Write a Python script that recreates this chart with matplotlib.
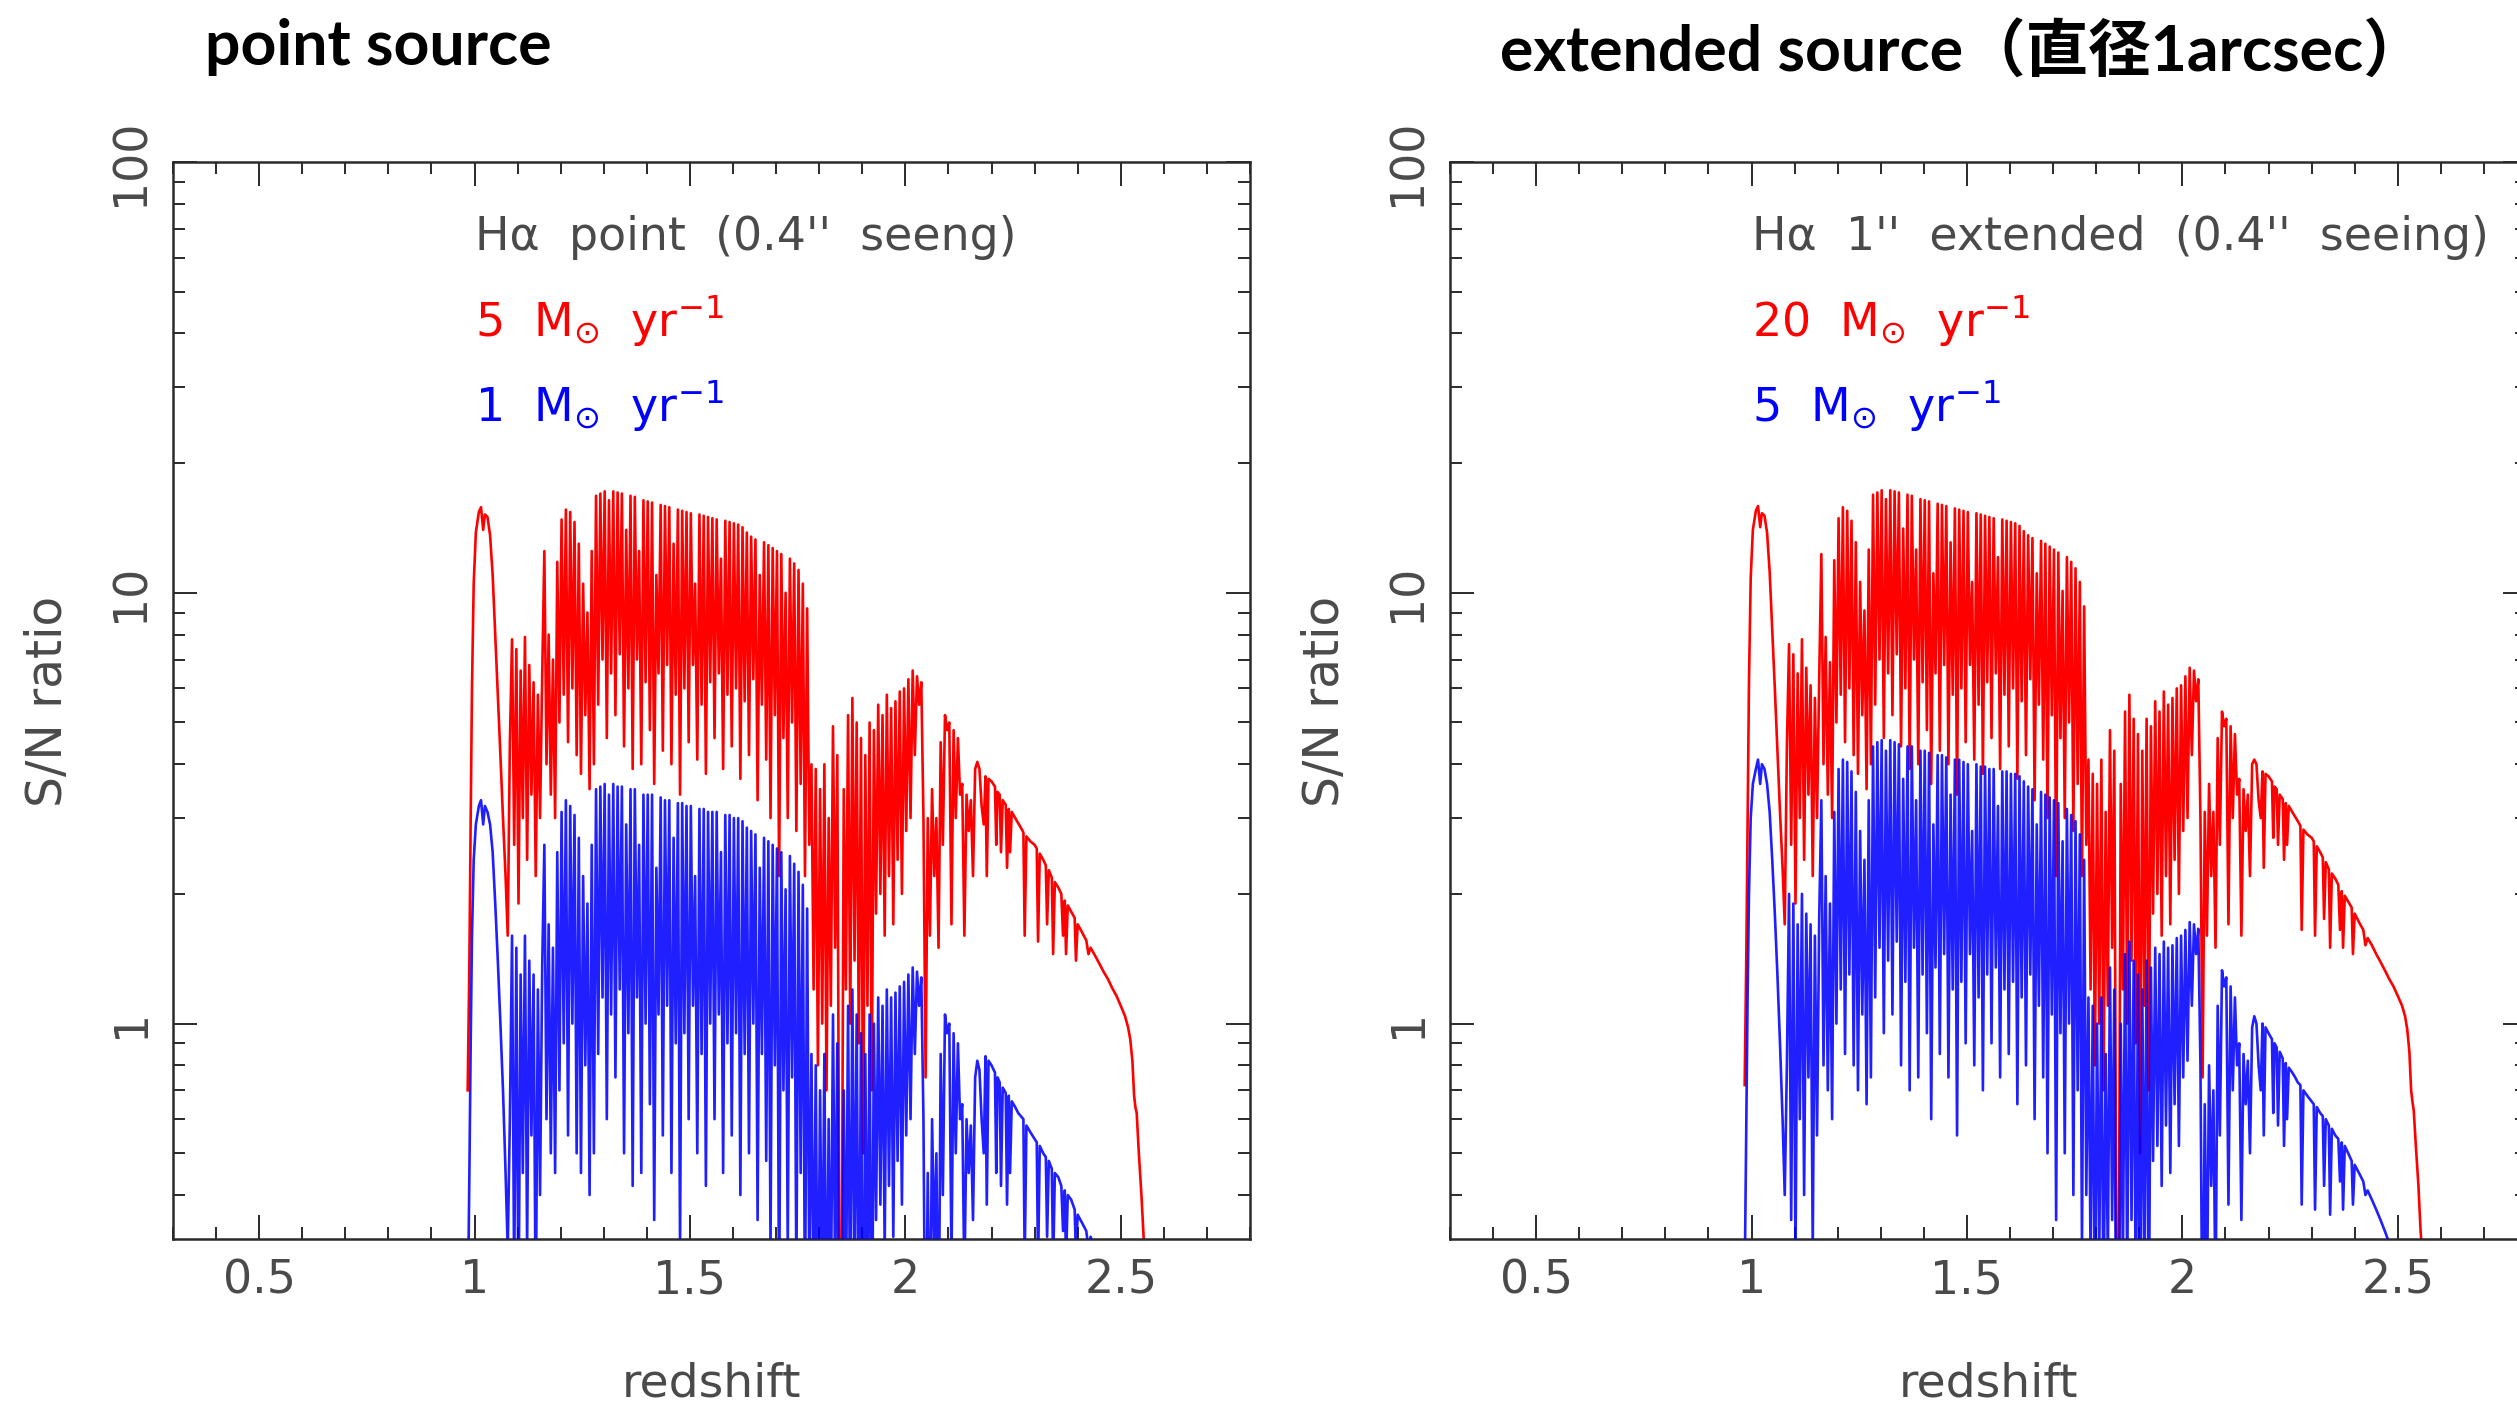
import matplotlib
matplotlib.use("Agg")
import matplotlib.pyplot as plt
from matplotlib.ticker import MultipleLocator, LogLocator, FixedLocator, NullFormatter, FuncFormatter

plt.rcParams['mathtext.fontset'] = 'dejavusans'
plt.rcParams['mathtext.default'] = 'regular'
plt.rcParams['font.family'] = ['DejaVu Sans']

# ---------------- data ----------------
redshift = [
    0.984, 0.988, 0.991, 0.994, 0.998, 1.003, 1.010, 1.015, 1.020, 1.024,
    1.030, 1.036, 1.042, 1.048, 1.054, 1.060, 1.066, 1.072, 1.077,
    1.082, 1.087, 1.092, 1.097, 1.102, 1.107, 1.112, 1.117, 1.122, 1.127,
    1.132, 1.137, 1.142, 1.147, 1.152, 1.157, 1.162, 1.167, 1.172, 1.177,
    1.182, 1.187,
    1.192, 1.197, 1.202, 1.207, 1.212, 1.217, 1.222, 1.227, 1.232, 1.237,
    1.242, 1.247, 1.252, 1.257, 1.262, 1.267, 1.272, 1.277, 1.282, 1.287,
    1.292, 1.297, 1.302, 1.307, 1.312, 1.317, 1.322, 1.327, 1.332, 1.337,
    1.342, 1.347, 1.352, 1.357, 1.362, 1.367, 1.372, 1.377, 1.382, 1.387,
    1.392, 1.397, 1.402, 1.407, 1.412, 1.417, 1.422, 1.427, 1.432, 1.437,
    1.442, 1.447, 1.452, 1.457, 1.462, 1.467, 1.472, 1.477, 1.482, 1.487,
    1.492, 1.497, 1.502, 1.507, 1.512, 1.517, 1.522, 1.527, 1.532, 1.537,
    1.542, 1.547, 1.552, 1.557, 1.562, 1.567, 1.572, 1.577, 1.582, 1.587,
    1.592, 1.597, 1.602, 1.607, 1.612, 1.617, 1.622, 1.627, 1.632, 1.637,
    1.642, 1.647, 1.652, 1.657, 1.662, 1.667, 1.672, 1.677, 1.682, 1.687,
    1.692, 1.697, 1.702, 1.707, 1.712, 1.717, 1.722, 1.727, 1.732, 1.737,
    1.742, 1.747, 1.752, 1.757, 1.762, 1.767, 1.772, 1.777,
    1.782, 1.787, 1.792, 1.797, 1.802, 1.807, 1.812, 1.817, 1.822, 1.827,
    1.832, 1.837, 1.842, 1.847, 1.852, 1.857, 1.862, 1.867, 1.872, 1.877,
    1.882, 1.887, 1.892, 1.897, 1.902, 1.907, 1.912, 1.917, 1.922, 1.927,
    1.932, 1.937, 1.942, 1.947, 1.952, 1.957, 1.962, 1.967, 1.972, 1.977,
    1.982, 1.987, 1.992, 1.997, 2.002, 2.007, 2.012, 2.017, 2.022, 2.027,
    2.032, 2.037, 2.042, 2.047,
    2.052, 2.057, 2.062, 2.067, 2.072, 2.077, 2.082, 2.087, 2.092, 2.097,
    2.102, 2.107, 2.112, 2.117, 2.122, 2.127, 2.132, 2.137, 2.142, 2.147,
    2.152, 2.157, 2.162, 2.167, 2.172, 2.177,
    2.182, 2.186, 2.189, 2.193, 2.200, 2.208, 2.211, 2.214, 2.219, 2.222,
    2.226, 2.233, 2.236, 2.240, 2.243, 2.247, 2.255, 2.262, 2.268, 2.274,
    2.277, 2.281, 2.290, 2.300, 2.305, 2.308, 2.312, 2.320, 2.326, 2.329,
    2.333, 2.340, 2.343, 2.347, 2.355, 2.362, 2.366, 2.370, 2.373, 2.377,
    2.385, 2.393, 2.396, 2.400, 2.410, 2.420, 2.425, 2.430, 2.440, 2.450,
    2.460, 2.470, 2.480, 2.490, 2.500, 2.510, 2.517, 2.522, 2.527, 2.531,
    2.534, 2.537, 2.542, 2.548, 2.553, 2.558,
]

# point source, 5 Msun/yr (red, left)
sn_point_5 = [
    0.70, 1.4, 3.0, 6.0, 10.5, 13.8, 15.4, 15.8, 14.0, 15.2,
    15.0, 13.6, 11.0, 8.0, 5.8, 4.2, 3.0, 2.2, 1.6,
    4.5, 7.8, 2.6, 7.4, 1.9, 6.6, 3.0, 7.9, 2.4, 6.8,
    3.4, 6.2, 2.2, 5.8, 3.0, 6.4, 12.5, 4.0, 8.0, 3.4,
    7.0, 3.0,
    11.8, 5.0, 14.8, 5.8, 15.6, 4.5, 15.4, 6.0, 14.6, 4.2,
    13.0, 3.8, 10.5, 5.2, 9.0, 3.5, 12.5, 4.0, 16.8, 5.5,
    17.0, 7.0, 17.2, 4.6, 16.4, 6.5, 17.2, 5.2, 17.1, 7.2,
    17.0, 4.4, 14.0, 6.0, 16.8, 3.9, 16.7, 7.0, 12.5, 4.0,
    16.4, 6.2, 16.3, 4.8, 16.2, 3.6, 11.0, 6.5, 16.0, 4.3,
    15.9, 6.8, 15.8, 4.0, 13.0, 5.8, 15.6, 3.4, 15.5, 6.0,
    15.4, 4.5, 15.3, 6.8, 10.5, 4.1, 15.2, 5.5, 15.1, 3.8,
    15.0, 6.2, 14.9, 4.6, 14.8, 6.5, 12.0, 3.9, 14.7, 5.8,
    14.6, 4.4, 14.5, 6.0, 14.4, 3.7, 14.2, 5.6, 13.8, 4.2,
    13.5, 6.3, 13.3, 3.3, 11.0, 5.5, 13.1, 4.1, 12.9, 3.0,
    12.7, 5.2, 12.5, 2.2, 12.3, 4.6, 10.0, 3.0, 12.0, 5.0,
    11.7, 2.8, 11.3, 3.6, 10.5, 2.2, 9.2, 2.6,
    4.0, 1.2, 3.9, 0.8, 3.5, 1.0, 4.0, 0.7, 3.0, 1.1,
    4.9, 1.5, 4.2, 0.25, 0.2, 3.5, 1.2, 5.2, 1.0, 5.7,
    1.4, 5.0, 0.9, 4.6, 0.5, 4.2, 1.1, 5.0, 0.7, 4.8,
    1.8, 5.5, 2.0, 5.2, 1.6, 5.8, 2.2, 5.4, 1.7, 5.6,
    2.4, 5.9, 2.0, 6.0, 2.8, 6.3, 3.0, 6.6, 4.2, 6.4,
    5.5, 6.2, 3.0, 0.75,
    3.0, 1.6, 3.5, 2.2, 3.0, 1.5, 4.5, 2.6, 5.2, 4.8,
    5.0, 1.7, 4.8, 3.0, 4.6, 3.4, 3.6, 1.6, 3.4, 2.8,
    3.3, 2.2, 3.9, 4.05, 3.9, 3.2,
    2.9, 3.75, 2.2, 3.7, 3.65, 3.55, 2.6, 3.45, 3.4, 2.5,
    3.3, 3.22, 2.3, 3.15, 2.5, 3.1, 3.0, 2.92, 2.85, 2.78,
    1.6, 2.72, 2.65, 2.6, 2.55, 1.55, 2.48, 2.4, 2.33, 1.7,
    2.27, 2.18, 1.45, 2.13, 2.07, 2.0, 1.6, 1.93, 1.45, 1.88,
    1.82, 1.76, 1.4, 1.7, 1.63, 1.56, 1.45, 1.5, 1.44, 1.38,
    1.32, 1.27, 1.21, 1.16, 1.1, 1.04, 0.98, 0.92, 0.82, 0.68,
    0.64, 0.62, 0.5, 0.4, 0.32, 0.27,
]

# point source, 1 Msun/yr (blue, left)
sn_point_1 = [
    0.2, 0.45, 0.9, 1.6, 2.4, 2.9, 3.2, 3.3, 2.9, 3.2,
    3.1, 2.9, 2.5, 1.9, 1.4, 1.0, 0.7, 0.45, 0.3,
    0.6, 1.6, 0.25, 1.5, 0.2, 1.3, 0.45, 1.6, 0.3, 1.4,
    0.55, 1.3, 0.2, 1.2, 0.4, 1.35, 2.6, 0.6, 1.7, 0.5,
    1.5, 0.45,
    2.5, 0.7, 3.1, 0.9, 3.3, 0.55, 3.2, 1.0, 3.05, 0.5,
    2.7, 0.45, 2.2, 0.8, 1.9, 0.4, 2.6, 0.5, 3.5, 0.85,
    3.55, 1.15, 3.6, 0.6, 3.4, 1.05, 3.6, 0.75, 3.55, 1.2,
    3.55, 0.5, 2.9, 0.95, 3.5, 0.42, 3.5, 1.15, 2.6, 0.45,
    3.4, 1.0, 3.4, 0.65, 3.4, 0.35, 2.3, 1.05, 3.35, 0.55,
    3.3, 1.1, 3.3, 0.45, 2.7, 0.9, 3.25, 0.3, 3.25, 0.95,
    3.2, 0.6, 3.2, 1.1, 2.2, 0.5, 3.15, 0.85, 3.15, 0.42,
    3.1, 1.0, 3.1, 0.6, 3.1, 1.05, 2.5, 0.45, 3.05, 0.9,
    3.05, 0.55, 3.0, 0.95, 3.0, 0.4, 2.95, 0.85, 2.85, 0.5,
    2.8, 1.0, 2.75, 0.35, 2.3, 0.85, 2.7, 0.48, 2.65, 0.3,
    2.6, 0.8, 2.55, 0.2, 2.5, 0.7, 2.05, 0.3, 2.45, 0.75,
    2.35, 0.25, 2.25, 0.45, 2.1, 0.2, 1.85, 0.25,
    0.85, 0.2, 0.8, 0.15, 0.7, 0.2, 0.85, 0.15, 0.6, 0.2,
    1.05, 0.25, 0.9, 0.1, 0.1, 0.7, 0.2, 1.1, 0.18, 1.2,
    0.25, 1.05, 0.15, 0.95, 0.1, 0.85, 0.2, 1.05, 0.12, 1.0,
    0.35, 1.15, 0.38, 1.1, 0.3, 1.2, 0.42, 1.15, 0.32, 1.18,
    0.48, 1.22, 0.38, 1.25, 0.55, 1.3, 0.6, 1.35, 0.85, 1.32,
    1.1, 1.28, 0.6, 0.12,
    0.45, 0.15, 0.6, 0.3, 0.5, 0.15, 0.85, 0.4, 1.05, 0.95,
    1.0, 0.28, 0.95, 0.5, 0.9, 0.6, 0.65, 0.25, 0.6, 0.45,
    0.58, 0.35, 0.75, 0.82, 0.78, 0.6,
    0.5, 0.84, 0.38, 0.82, 0.8, 0.77, 0.45, 0.75, 0.73, 0.42,
    0.71, 0.69, 0.38, 0.68, 0.45, 0.66, 0.64, 0.62, 0.61, 0.6,
    0.28, 0.58, 0.56, 0.54, 0.53, 0.27, 0.52, 0.5, 0.49, 0.32,
    0.48, 0.46, 0.27, 0.45, 0.44, 0.42, 0.33, 0.41, 0.28, 0.4,
    0.39, 0.37, 0.29, 0.36, 0.345, 0.33, 0.3, 0.32, 0.3, 0.28,
    0.27, 0.26, 0.25, 0.24, 0.23, 0.22, 0.21, 0.2, 0.19, 0.18,
    0.17, 0.16, 0.15, 0.14, 0.13, 0.12,
]

# extended source, 20 Msun/yr (red, right)
sn_ext_20 = [
    0.72, 1.5, 3.1, 6.2, 10.8, 14.0, 15.5, 15.9, 14.2, 15.3,
    15.1, 13.8, 11.2, 8.2, 6.0, 4.3, 3.1, 2.3, 1.7,
    4.4, 7.6, 2.6, 7.2, 1.9, 6.5, 3.0, 7.8, 2.4, 6.7,
    3.4, 6.1, 2.2, 5.7, 3.0, 6.3, 12.3, 4.0, 7.9, 3.4,
    6.9, 3.0,
    11.9, 5.0, 14.9, 5.8, 15.8, 4.5, 15.5, 6.0, 14.7, 4.2,
    13.1, 3.8, 10.6, 5.2, 9.1, 3.5, 12.6, 4.0, 16.9, 5.5,
    17.1, 7.0, 17.3, 4.6, 16.5, 6.5, 17.3, 5.2, 17.2, 7.2,
    17.1, 4.4, 14.1, 6.0, 16.9, 3.9, 16.8, 7.0, 12.6, 4.0,
    16.5, 6.2, 16.4, 4.8, 16.3, 3.6, 11.1, 6.5, 16.1, 4.3,
    16.0, 6.8, 15.9, 4.0, 13.1, 5.8, 15.7, 3.4, 15.6, 6.0,
    15.5, 4.5, 15.4, 6.8, 10.6, 4.1, 15.3, 5.5, 15.2, 3.8,
    15.1, 6.2, 15.0, 4.6, 14.9, 6.5, 12.1, 3.9, 14.8, 5.8,
    14.7, 4.4, 14.6, 6.0, 14.5, 3.7, 14.3, 5.6, 13.9, 4.2,
    13.6, 6.3, 13.4, 3.3, 11.1, 5.5, 13.2, 4.1, 13.0, 3.0,
    12.8, 5.2, 12.6, 2.2, 12.4, 4.6, 10.1, 3.0, 12.1, 5.0,
    11.8, 2.8, 11.4, 3.6, 10.6, 2.2, 9.3, 2.6,
    4.1, 1.2, 3.8, 0.8, 3.6, 1.0, 4.1, 0.7, 3.1, 1.1,
    4.8, 1.5, 4.3, 0.25, 0.2, 3.6, 1.2, 5.3, 1.0, 5.8,
    1.4, 5.1, 0.9, 4.7, 0.5, 4.3, 1.1, 5.1, 0.7, 4.9,
    1.8, 5.6, 2.0, 5.3, 1.6, 5.9, 2.2, 5.5, 1.7, 5.7,
    2.4, 6.0, 2.0, 6.1, 2.8, 6.4, 3.0, 6.7, 4.2, 6.6,
    5.6, 6.3, 3.0, 0.75,
    3.1, 1.6, 3.6, 2.2, 3.1, 1.5, 4.6, 2.6, 5.3, 4.9,
    5.1, 1.7, 4.9, 3.0, 4.7, 3.4, 3.7, 1.6, 3.5, 2.8,
    3.4, 2.2, 4.0, 4.1, 4.0, 3.3,
    3.0, 3.85, 2.3, 3.8, 3.75, 3.65, 2.7, 3.55, 3.5, 2.6,
    3.4, 3.32, 2.4, 3.25, 2.6, 3.2, 3.1, 3.02, 2.95, 2.88,
    1.65, 2.82, 2.75, 2.7, 2.65, 1.6, 2.58, 2.5, 2.43, 1.75,
    2.37, 2.28, 1.5, 2.23, 2.17, 2.1, 1.65, 2.03, 1.5, 1.98,
    1.92, 1.86, 1.45, 1.8, 1.72, 1.65, 1.52, 1.58, 1.52, 1.45,
    1.39, 1.33, 1.27, 1.22, 1.16, 1.1, 1.04, 0.97, 0.86, 0.7,
    0.66, 0.63, 0.52, 0.42, 0.33, 0.28,
]

# extended source, 5 Msun/yr (blue, right)
sn_ext_5 = [
    0.25, 0.6, 1.2, 2.0, 3.0, 3.6, 3.9, 4.1, 3.6, 4.0,
    3.9, 3.6, 3.1, 2.4, 1.8, 1.3, 0.9, 0.6, 0.4,
    0.8, 2.0, 0.35, 1.9, 0.28, 1.7, 0.6, 2.0, 0.4, 1.8,
    0.75, 1.7, 0.3, 1.6, 0.55, 1.75, 3.3, 0.8, 2.2, 0.7,
    1.9, 0.6,
    3.1, 1.0, 3.9, 1.2, 4.1, 0.85, 4.05, 1.3, 3.85, 0.8,
    3.45, 0.7, 2.8, 1.05, 2.4, 0.65, 3.3, 0.75, 4.4, 1.15,
    4.5, 1.5, 4.55, 0.95, 4.3, 1.4, 4.55, 1.05, 4.5, 1.55,
    4.45, 0.8, 3.7, 1.25, 4.4, 0.7, 4.4, 1.5, 3.3, 0.75,
    4.3, 1.3, 4.3, 0.95, 4.25, 0.6, 2.9, 1.35, 4.2, 0.85,
    4.2, 1.45, 4.15, 0.75, 3.4, 1.2, 4.1, 0.55, 4.1, 1.25,
    4.05, 0.9, 4.0, 1.45, 2.8, 0.8, 4.0, 1.15, 3.95, 0.7,
    3.95, 1.3, 3.9, 0.9, 3.9, 1.35, 3.2, 0.75, 3.85, 1.2,
    3.85, 0.85, 3.8, 1.25, 3.8, 0.65, 3.75, 1.15, 3.65, 0.8,
    3.55, 1.3, 3.5, 0.6, 2.9, 1.1, 3.45, 0.75, 3.4, 0.5,
    3.35, 1.05, 3.3, 0.35, 3.25, 0.95, 2.65, 0.5, 3.15, 1.0,
    3.05, 0.4, 2.95, 0.7, 2.75, 0.3, 2.4, 0.4,
    1.15, 0.28, 1.1, 0.2, 1.0, 0.28, 1.15, 0.2, 0.85, 0.28,
    1.35, 0.35, 1.2, 0.12, 0.12, 1.0, 0.28, 1.45, 0.25, 1.55,
    0.35, 1.4, 0.2, 1.3, 0.14, 1.2, 0.28, 1.4, 0.17, 1.35,
    0.48, 1.5, 0.52, 1.45, 0.42, 1.55, 0.58, 1.5, 0.45, 1.52,
    0.65, 1.58, 0.52, 1.6, 0.75, 1.65, 0.82, 1.72, 1.1, 1.7,
    1.45, 1.66, 0.8, 0.15,
    0.65, 0.22, 0.8, 0.42, 0.7, 0.22, 1.1, 0.55, 1.33, 1.22,
    1.28, 0.38, 1.22, 0.7, 1.15, 0.8, 0.9, 0.35, 0.85, 0.65,
    0.82, 0.5, 0.98, 1.04, 1.0, 0.8,
    0.7, 1.0, 0.55, 0.98, 0.95, 0.92, 0.62, 0.9, 0.88, 0.58,
    0.86, 0.83, 0.52, 0.81, 0.6, 0.79, 0.77, 0.75, 0.73, 0.72,
    0.38, 0.7, 0.68, 0.66, 0.65, 0.37, 0.64, 0.62, 0.61, 0.42,
    0.6, 0.58, 0.36, 0.57, 0.55, 0.54, 0.43, 0.53, 0.37, 0.52,
    0.5, 0.48, 0.38, 0.47, 0.45, 0.43, 0.4, 0.41, 0.39, 0.37,
    0.35, 0.33, 0.31, 0.29, 0.27, 0.25, 0.24, 0.23, 0.22, 0.21,
    0.2, 0.19, 0.18, 0.17, 0.16, 0.15,
]

for s in (sn_point_5, sn_point_1, sn_ext_20, sn_ext_5):
    assert len(s) == len(redshift), (len(s), len(redshift))

x_ticks = [0.5, 1.0, 1.5, 2.0, 2.5]
y_ticks = [1, 10, 100]

titles = ['point source', 'extended source（直径1arcsec）']
notes = ["Hα  point  (0.4''  seeng)", "Hα  1''  extended  (0.4''  seeing)"]
red_labels = [r'5  M$_{\odot}$  yr$^{-1}$', r'20  M$_{\odot}$  yr$^{-1}$']
blue_labels = [r'1  M$_{\odot}$  yr$^{-1}$', r'5  M$_{\odot}$  yr$^{-1}$']
red_series = [sn_point_5, sn_ext_20]
blue_series = [sn_point_1, sn_ext_5]

# ---------------- layout (pixels of a 2517x1408 canvas) ----------------
W, H = 2517, 1408
fig = plt.figure(figsize=(W / 100, H / 100), dpi=100)
fig.patch.set_facecolor('white')

GRAY = '#4a4a4a'
AXC = '#2a2a2a'
RED = '#ff0000'
BLUE = '#0000ff'

ax_left_px = [173, 1450]
ax_top, ax_bot = 162, 1239
ax_w = 1077
title_pos = [(205, 65), (1500, 72)]
TITLE_FAMILY = ['Lato', 'Noto Sans CJK JP', 'DejaVu Sans']


def fx(x):
    return x / W


def fy(y):
    return 1 - y / H


fmt = FuncFormatter(lambda v, p: f'{v:g}')

for i in range(2):
    x0 = ax_left_px[i]
    ax = fig.add_axes([fx(x0), fy(ax_bot), ax_w / W, (ax_bot - ax_top) / H])
    ax.plot(redshift, red_series[i], color=RED, lw=1.9, zorder=2)
    ax.plot(redshift, blue_series[i], color=BLUE, lw=1.9, alpha=0.88, zorder=3)
    ax.set_yscale('log')
    ax.set_xlim(0.3, 2.8)
    ax.set_ylim(10 ** -0.5, 100)

    ax.xaxis.set_major_locator(FixedLocator(x_ticks))
    ax.xaxis.set_minor_locator(MultipleLocator(0.1))
    ax.xaxis.set_major_formatter(fmt)
    ax.yaxis.set_major_locator(FixedLocator(y_ticks))
    ax.yaxis.set_minor_locator(LogLocator(base=10, subs=range(2, 10)))
    ax.yaxis.set_minor_formatter(NullFormatter())
    ax.yaxis.set_major_formatter(fmt)

    ax.tick_params(which='both', direction='in', top=True, right=True,
                   color=AXC, width=1.4)
    ax.tick_params(which='major', length=17)
    ax.tick_params(which='minor', length=8.5)
    ax.tick_params(axis='x', labelsize=33, pad=14, labelcolor=GRAY)
    ax.tick_params(axis='y', labelsize=33, pad=14, labelcolor=GRAY,
                   labelrotation=90)
    for lab in ax.get_yticklabels():
        lab.set_va('center')
    for sp in ax.spines.values():
        sp.set_color(AXC)
        sp.set_linewidth(1.8)

    # axis labels
    cx = x0 + ax_w / 2
    fig.text(fx(cx), fy(1384), 'redshift', ha='center', va='center',
             fontsize=34, color=GRAY)
    fig.text(fx(x0 - 125), fy(701), 'S/N ratio', ha='center', va='center',
             rotation=90, fontsize=35, color=GRAY)

    # title
    tx, ty = title_pos[i]
    fig.text(fx(tx), fy(ty), titles[i], ha='left', va='baseline',
             fontsize=45, fontweight='bold', family=TITLE_FAMILY, color='black')

    # annotations
    ax0 = x0 + 302
    fig.text(fx(ax0), fy(250), notes[i], ha='left', va='baseline',
             fontsize=33, color=GRAY)
    fig.text(fx(ax0), fy(337), red_labels[i], ha='left', va='baseline',
             fontsize=33, color=RED)
    fig.text(fx(ax0), fy(422), blue_labels[i], ha='left', va='baseline',
             fontsize=33, color=BLUE)

fig.savefig('out.png', dpi=100, facecolor='white')
